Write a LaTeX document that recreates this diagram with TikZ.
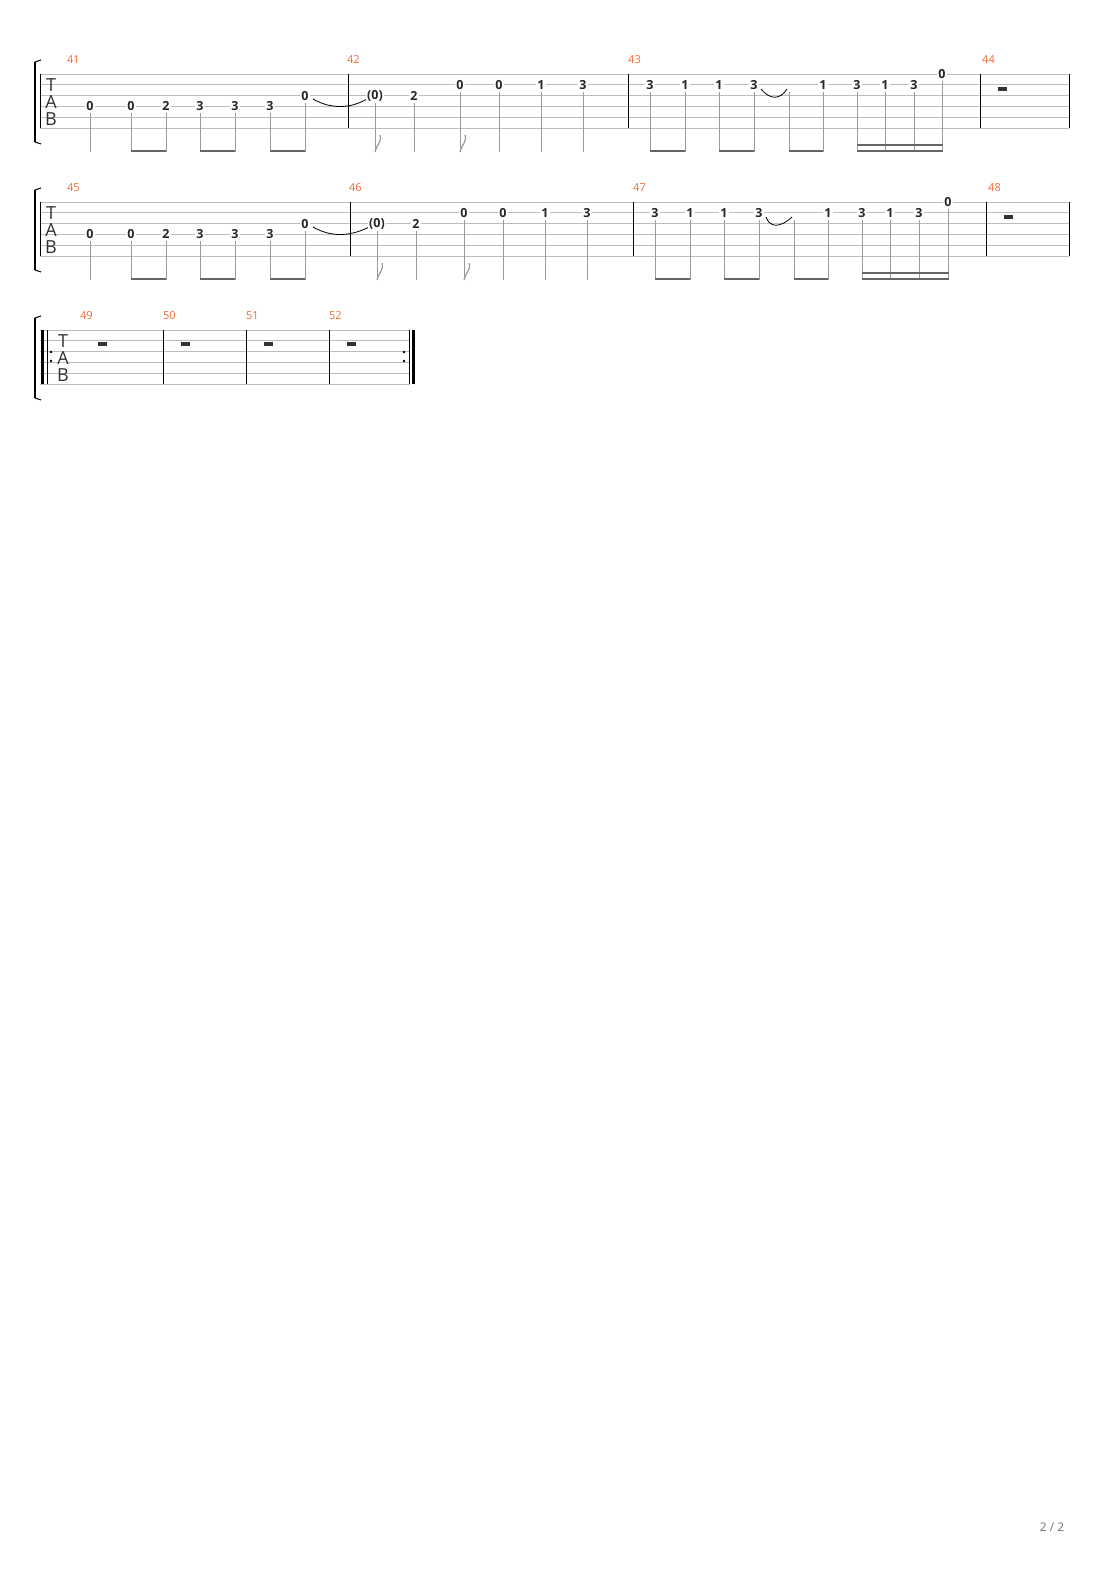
\documentclass[tikz,border=0pt]{standalone}
\usepackage{fontspec}
\setmainfont{Open Sans}
\definecolor{barnum}{HTML}{F26A3A}
\definecolor{stringc}{HTML}{BDBDBD}
\definecolor{stemc}{HTML}{9A9A9A}
\definecolor{beamc}{HTML}{666666}
\tikzset{
  fret/.style={font=\fontsize{12.5}{12.5}\selectfont\bfseries, text=black!85, fill=white, inner sep=1pt},
  mnum/.style={font=\fontsize{11}{11}\selectfont, text=barnum, anchor=south west, inner sep=0pt},
  tabletter/.style={font=\fontsize{18}{18}\selectfont, text=black!80, inner sep=0pt},
  stemline/.style={stemc, line width=1pt},
  beamline/.style={beamc, line width=2.6pt},
  barline/.style={black, line width=1pt},
}
% fret number on a string: x, row top, string, text
\newcommand{\fretnum}[4]{\node[fret] at (#1,{#2+(#3-1)*10.8}) {#4};}
% stem from below the number down
\newcommand{\stemat}[3]{\draw[stemline] (#1,{#2+(#3-1)*10.8+7}) -- (#1,{#2+78});}
\newcommand{\flagat}[2]{\draw[stemline, line width=1.2pt] (#1,{#2+78}) .. controls (#1+2,{#2+70}) and (#1+7,{#2+68}) .. (#1+5,{#2+61});}
\newcommand{\beampair}[3]{\draw[beamline] (#1,{#3+77}) -- (#2,{#3+77});}
\newcommand{\rowstaff}[4]{%
  \foreach \s in {0,...,5} \draw[stringc, line width=0.7pt] (#2,{#1+\s*10.8}) -- (#3,{#1+\s*10.8});
  \draw[black, line width=1.3pt] (35,#1-12) -- (35,#1+68);
  \draw[black, line width=1pt] (35,#1-12) -- (41,#1-14);
  \draw[black, line width=1pt] (35,#1+68) -- (41,#1+70);
  \node[tabletter] at (#4,#1+11) {T};
  \node[tabletter] at (#4,#1+28) {A};
  \node[tabletter] at (#4,#1+45) {B};
}
\begin{document}
\begin{tikzpicture}[x=1pt,y=-1pt]
\useasboundingbox[fill=white] (0,0) rectangle (1110,1570);

% ---- rows 1 and 2 (same music)
\foreach \ry/\dx in {74/0, 202/1} {
  \rowstaff{\ry}{40}{1069}{51}
  \pgfmathsetmacro{\a}{\dx*2}
  \pgfmathsetmacro{\b}{\dx*5}
  \draw[barline] (40,\ry) -- (40,\ry+54);
  \draw[barline] (348+\a,\ry) -- (348+\a,\ry+54);
  \draw[barline] (628+\b,\ry) -- (628+\b,\ry+54);
  \draw[barline] (980+\dx*6,\ry) -- (980+\dx*6,\ry+54);
  \draw[barline] (1069,\ry) -- (1069,\ry+54);
  % measure A
  \foreach \x/\t in {90/0,131/0,166/2,200/3,235/3,270/3} {
    \stemat{\x}{\ry}{4} \fretnum{\x}{\ry}{4}{\t}
  }
  \stemat{305}{\ry}{3}
  \draw[black, line width=0.8pt] (313,\ry+25) .. controls (330,\ry+35) and (350,\ry+35) .. (367+\a,\ry+25);
  \fretnum{305}{\ry}{3}{0}
  \beampair{131}{166}{\ry} \beampair{200}{235}{\ry} \beampair{270}{305}{\ry}
  % measure B
  \stemat{375+\a}{\ry}{3} \flagat{375+\a}{\ry} \fretnum{375+\a}{\ry}{3}{(0)}
  \stemat{414+\a}{\ry}{3} \fretnum{414+\a}{\ry}{3}{2}
  \foreach \x/\t in {460/0,499/0,541/1,583/3} {
    \stemat{\x+\b*0.8}{\ry}{2} \fretnum{\x+\b*0.8}{\ry}{2}{\t}
  }
  \flagat{460+\b*0.8}{\ry}
  % measure C
  \foreach \x/\t in {650/3,685/1,719/1,754/3,823/1,857/3,885/1,914/3} {
    \stemat{\x+\b}{\ry}{2} \fretnum{\x+\b}{\ry}{2}{\t}
  }
  \stemat{789+\b}{\ry}{2}
  \stemat{942+\b+\dx}{\ry}{1} \fretnum{942+\b+\dx}{\ry}{1}{0}
  \draw[black, line width=0.8pt] (761+\b,\ry+15) .. controls (770,\ry+26) and (780,\ry+26) .. (787+\b,\ry+15);
  \beampair{650+\b}{685+\b}{\ry} \beampair{719+\b}{754+\b}{\ry} \beampair{789+\b}{823+\b}{\ry}
  \draw[beamline, line width=2pt] (857+\b,\ry+71) -- (943+\b+\dx,\ry+71);
  \draw[beamline, line width=2pt] (857+\b,\ry+77) -- (943+\b+\dx,\ry+77);
  % measure D
  \fill[black!80] (998+\dx*6,\ry+13) rectangle (1007+\dx*6,\ry+17);
}
\node[mnum] at (67,64) {41};
\node[mnum] at (347,64) {42};
\node[mnum] at (628,64) {43};
\node[mnum] at (982,64) {44};
\node[mnum] at (67,192) {45};
\node[mnum] at (349,192) {46};
\node[mnum] at (633,192) {47};
\node[mnum] at (988,192) {48};

% ---- row 3
\rowstaff{330}{40}{410}{63}
\draw[black, line width=3pt] (42,330) -- (42,384);
\draw[black, line width=0.8pt] (47,330) -- (47,384);
\fill (51,352) circle (1.4) (51,361) circle (1.4);
\foreach \x in {163,246,329} \draw[barline] (\x,330) -- (\x,384);
\draw[black, line width=0.8pt] (409,330) -- (409,384);
\draw[black, line width=3pt] (413,330) -- (413,384);
\fill (404,352) circle (1.4) (404,361) circle (1.4);
\foreach \x/\n in {103/49,186/50,269/51,352/52} {
  \fill[black!80] (\x-5,342) rectangle (\x+4,346);
  \node[mnum] at (\x-23,320) {\n};
}

\node[font=\fontsize{12}{12}\selectfont, text=black!55] at (1052,1527) {2 / 2};
\end{tikzpicture}
\end{document}
